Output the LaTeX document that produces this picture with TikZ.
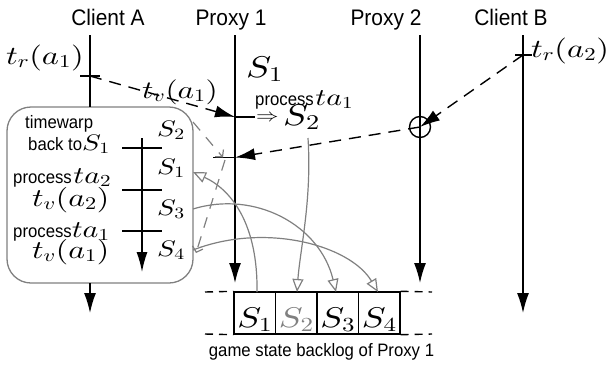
\documentclass[tikz,border=0pt]{standalone}
\DeclareFontShape{OML}{cmm}{m}{it}{<-> cmmi10}{}
\DeclareFontShape{OT1}{cmr}{m}{n}{<-> cmr10}{}
\DeclareFontShape{OMS}{cmsy}{m}{n}{<-> cmsy10}{}
\DeclareFontShape{OMX}{cmex}{m}{n}{<-> cmex10}{}
\usepackage{graphicx}
\usepackage[no-math]{fontspec}
\setmainfont{Liberation Sans}[FakeStretch=0.93]
\usetikzlibrary{arrows.meta}
\newcommand\sml[1]{{\fontsize{18}{20}\selectfont #1}}
\newcommand\mth[2]{\scalebox{1.25}[1]{\fontsize{#1}{#1}\selectfont $#2$}}
\tikzset{
  ln/.style={line width=1.4pt},
  tipA/.style={-{Latex[length=20pt,width=12pt]}},
  dsh/.style={dash pattern=on 12pt off 8pt},
  gr/.style={draw=gray, line width=1.2pt},
  otri/.style={-{Triangle[open,length=13pt,width=11pt,line width=1.2pt]}},
  barb/.style={-{Straight Barb[length=5pt,width=11pt,line width=1.2pt]}},
  ttl/.style={font=\fontsize{22.5}{24}\selectfont, anchor=base, inner sep=0pt},
  lbl/.style={inner sep=0pt},
  cell/.style={draw, line width=1.4pt, minimum width=41.5pt, minimum height=42pt, inner sep=0pt},
}
\begin{document}
\begin{tikzpicture}[x=1pt,y=-1pt]
\useasboundingbox (0,0) rectangle (612,367);
% titles
\node[ttl] (tA) at (108,25) {Client A};
\node[ttl] (tP1) at (231,25) {Proxy 1};
\node[ttl] (tP2) at (386,25) {Proxy 2};
\node[ttl] (tB) at (511,25) {Client B};
% lifeline points
\coordinate (Atop) at (90,35);
\coordinate (Ar) at (90,76);
\coordinate (Abt) at (90,107);
\coordinate (Abb) at (90,283);
\coordinate (Aend) at (90,313);
\coordinate (P1top) at (235,35);
\coordinate (P1a) at (235,117);
\coordinate (P1b) at (235,157.5);
\coordinate (P1end) at (235,283);
\coordinate (P2top) at (420,35);
\coordinate (P2c) at (420,127);
\coordinate (P2end) at (420,283);
\coordinate (Btop) at (523,35);
\coordinate (Br) at (523,55);
\coordinate (Bend) at (523,313);
% box
\node[draw=gray, line width=1.3pt, rounded corners=24pt, minimum width=186pt, minimum height=176pt, inner sep=0pt] (box) at (100,195) {};
% lifelines
\draw[ln] (Atop) -- (Abt);
\draw[ln,tipA] (Abb) -- (Aend);
\draw[ln,tipA] (P1top) -- (P1end);
\draw[ln,tipA] (P2top) -- (P2end);
\draw[ln,tipA] (Btop) -- (Bend);
% ticks
\draw[ln] (80,76) -- (100,76);
\draw[ln] (515,55) -- (532,55);
\coordinate (P1ar) at (255,117);
\draw[ln] (P1a) -- (P1ar);
\coordinate (P1bl) at (213,157.5);
\draw[ln] (P1bl) -- (P1b);
% labels
\node[lbl, anchor=base east] (trA) at (84,64) {\mth{26}{t_r(a_1)}};
\node[lbl, anchor=base west] (trB) at (531,57) {\mth{26}{t_r(a_2)}};
\node[lbl, anchor=base west] (S1top) at (246,77) {\mth{30}{S_1}};
\node[lbl, anchor=base west] (tvA) at (142,98) {\mth{25}{t_v(a_1)}};
\node[lbl, anchor=base west] (proc) at (255,105) {\sml{process}\,\mth{24}{ta_1}};
\node[lbl, anchor=base west] (arr) at (256,121.5) {\mth{18}{\Rightarrow}};
\node[lbl, anchor=base west] (S2top) at (283,125) {\mth{30}{S_2}};
% messages
\node[draw, line width=1.4pt, circle, minimum size=21pt, inner sep=0pt] (circ) at (P2c) {};
\draw[ln,dsh,tipA] (Ar) -- (P1a);
\draw[ln,dsh,tipA] (Br) -- (P2c);
\draw[ln,dsh,tipA] (P2c) -- (P1b);
% inside box
\coordinate (Itop) at (142,138);
\coordinate (Iend) at (142,272);
\draw[ln,-{Latex[length=20pt,width=11pt]}] (Itop) -- (Iend);
\draw[ln] (122,148) -- (162,148);
\draw[ln] (122,190) -- (162,190);
\draw[ln] (122,231) -- (162,231);
\node[lbl, anchor=base west] (bS2) at (157,136) {\mth{22.5}{S_2}};
\node[lbl, anchor=base west] (bS1) at (157,174) {\mth{22.5}{S_1}};
\node[lbl, anchor=base west] (bS3) at (157,215) {\mth{22.5}{S_3}};
\node[lbl, anchor=base west] (bS4) at (157,256) {\mth{22.5}{S_4}};
\node[lbl, anchor=base west] (tw) at (25,128) {\sml{timewarp}};
\node[lbl, anchor=base west] (bt) at (28,150) {\sml{back to}\mth{22.5}{S_1}};
\node[lbl, anchor=base west] (p2) at (13,183) {\sml{process}\,\mth{24}{ta_2}};
\node[lbl, anchor=base west] (tv2) at (32,206) {\mth{25.5}{t_v(a_2)}};
\node[lbl, anchor=base west] (p1) at (13,237) {\sml{process}\mth{24}{ta_1}};
\node[lbl, anchor=base west] (tv1) at (32,258) {\mth{25.5}{t_v(a_1)}};
% backlog
\node[cell] (c1) at (254.75,313) {};
\node[cell] (c2) at (296.25,313) {};
\node[cell] (c3) at (337.75,313) {};
\node[cell] (c4) at (379.25,313) {};
\node[lbl, anchor=base] (l1) at (254.75,327) {\mth{28.5}{S_1}};
\node[lbl, anchor=base, text=gray] (l2) at (296.25,327) {\mth{28.5}{S_2}};
\node[lbl, anchor=base] (l3) at (337.75,327) {\mth{28.5}{S_3}};
\node[lbl, anchor=base] (l4) at (379.25,327) {\mth{28.5}{S_4}};
\coordinate (dl1) at (205,292);
\coordinate (dl2) at (205,334);
\coordinate (dr1) at (432,292);
\coordinate (dr2) at (432,334);
\draw[ln, dash pattern=on 8pt off 6pt] (dl1) -- (c1.north west);
\draw[ln, dash pattern=on 8pt off 6pt] (dl2) -- (c1.south west);
\draw[ln, dash pattern=on 8pt off 6pt] (c4.north east) -- (dr1);
\draw[ln, dash pattern=on 8pt off 6pt] (c4.south east) -- (dr2);
\node[lbl, anchor=base] (cap) at (321.5,356) {\sml{game state backlog of Proxy 1}};
% gray connectors
\coordinate (g0) at (193,122);
\coordinate (g1) at (223,157.5);
\coordinate (g2) at (225,160);
\coordinate (g3) at (196,253);
\draw[gr, dash pattern=on 11pt off 9pt, barb] (g0) -- (g1);
\draw[gr, dash pattern=on 11pt off 9pt, barb] (g2) -- (g3);
\coordinate (k1) at (257,292);
\coordinate (k2) at (297,292);
\coordinate (k3) at (336,292);
\coordinate (k4) at (378,292);
\coordinate (e1) at (193,172);
\coordinate (e3) at (193,209);
\coordinate (e4) at (193,250);
\coordinate (e2) at (308,138);
\draw[gr, otri] (k1) .. controls (258,225) and (232,190) .. (e1);
\draw[gr, otri] (e3) .. controls (255,190) and (320,225) .. (k3);
\draw[gr, otri] (e4) .. controls (265,222) and (350,245) .. (k4);
\draw[gr, otri] (e2) .. controls (312,200) and (300,250) .. (k2);
\end{tikzpicture}
\end{document}
